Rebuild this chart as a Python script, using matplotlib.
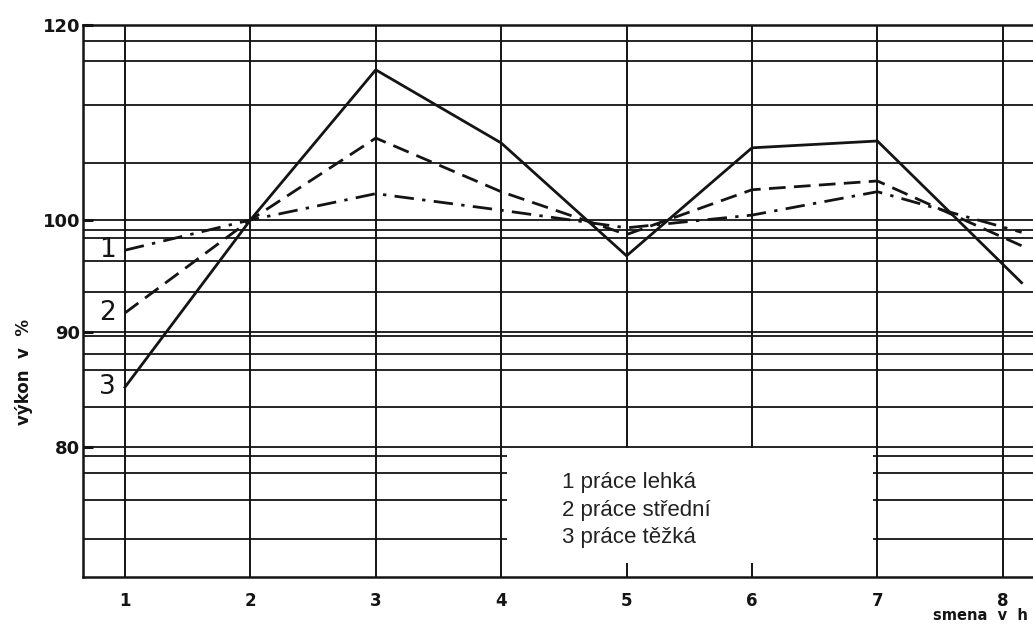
import numpy as np
import matplotlib
matplotlib.use("Agg")
import matplotlib.pyplot as plt
from matplotlib.patches import Rectangle

# hours of the shift (last point is where the curves stop, just past 8)
hours = [1, 2, 3, 4, 5, 6, 7, 8.15]
light = [97.3, 100, 102.7, 101.0, 99.3, 100.5, 102.9, 98.9]    # 1 práce lehká
medium = [91.7, 100, 108.4, 102.9, 98.7, 103.1, 104.0, 97.7]   # 2 práce střední
heavy = [85.2, 100, 115.4, 107.9, 96.8, 107.4, 108.1, 94.4]    # 3 práce těžká

x_ticks = [1, 2, 3, 4, 5, 6, 7, 8]
y_ticks = [80, 90, 100, 120]
# horizontal rules of the printed grid
h_rules = [118.4, 116.3, 111.8, 105.8, 100, 99.1, 98.4, 96.3, 93.6, 90, 89.65,
           88.1, 86.7, 83.5, 80, 79.2, 77.7, 75.4, 72.0]
legend_lines = ["1 práce lehká", "2 práce střední", "3 práce těžká"]

# the printed y axis is not evenly spaced, so use a piecewise scale
scale_vals = [68.7, 80, 90, 100, 120]
scale_pos = [0, 130, 245, 357, 552]

def fwd(v):
    return np.interp(v, scale_vals, scale_pos)

def inv(p):
    return np.interp(p, scale_pos, scale_vals)

ink = "#141414"

fig = plt.figure(figsize=(10.33, 6.26), dpi=100)
ax = fig.add_axes([0.0803, 0.0783, 0.939, 0.8818])
ax.set_yscale("function", functions=(fwd, inv))
ax.set_xlim(0.665, 8.4)
ax.set_ylim(68.7, 120)

for v in h_rules:
    ax.axhline(v, color=ink, lw=1.3, zorder=1)
for x in x_ticks:
    ax.axvline(x, color=ink, lw=1.4, zorder=1)

ax.plot(hours, light, color=ink, lw=2, ls=(0, (7, 3, 1.2, 3)), zorder=3)
ax.plot(hours, medium, color=ink, lw=2, ls=(0, (6, 3)), zorder=3)
ax.plot(hours, heavy, color=ink, lw=2, zorder=3)

for lab, ser in zip(["1", "2", "3"], [light, medium, heavy]):
    ax.text(0.86, ser[0], lab, fontsize=19, color=ink, ha="center", va="center")

ax.set_xticks(x_ticks)
ax.set_xticklabels([str(x) for x in x_ticks], fontsize=12, fontweight="bold", color=ink)
ax.set_yticks(y_ticks)
ax.set_yticklabels([str(y) for y in y_ticks], fontsize=13, fontweight="bold", color=ink)
ax.yaxis.set_minor_locator(matplotlib.ticker.NullLocator())
ax.tick_params(axis="x", length=0, pad=11)
ax.tick_params(axis="y", direction="in", length=7, width=2.2, pad=2, color=ink)

for side in ["left", "bottom", "top"]:
    ax.spines[side].set_linewidth(1.8)
    ax.spines[side].set_color(ink)
ax.spines["right"].set_visible(False)

fig.text(0.023, 0.406, "výkon  v  %", rotation=90, fontsize=12, fontweight="bold",
         color=ink, ha="center", va="center")
fig.text(0.995, 0.004, "smena  v  h", fontsize=10.5, fontweight="bold", color=ink,
         ha="right", va="bottom")

# white legend box pasted over the grid
fig.patches.append(Rectangle((0.4908, 0.1006), 0.3542, 0.1837, transform=fig.transFigure,
                             facecolor="white", edgecolor="none", zorder=1))
for i, t in enumerate(legend_lines):
    fig.text(0.5437, 0.230 - i * 0.0447, t, fontsize=16, family="Liberation Sans",
             color="#222222", ha="left", va="center", zorder=3)

fig.savefig("out.png", dpi=100, facecolor="white")
